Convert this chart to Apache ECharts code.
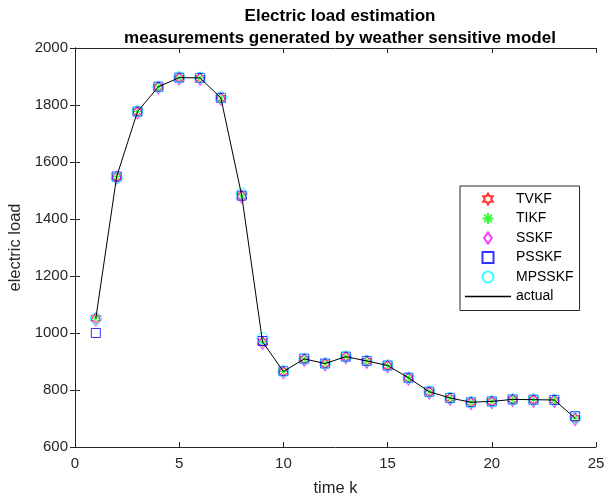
<!DOCTYPE html>
<html>
<head>
<meta charset="utf-8">
<script src="https://cdn.jsdelivr.net/npm/echarts@6/dist/echarts.min.js"></script>
<style>
  html, body { margin: 0; padding: 0; background: #fff; }
  #chart { width: 606px; height: 499px; }
</style>
</head>
<body>
<div id="chart"></div>
<script>
  // 时间步 k
  const steps = [1, 2, 3, 4, 5, 6, 7, 8, 9, 10, 11, 12, 13, 14, 15, 16, 17, 18, 19, 20, 21, 22, 23, 24];
  // 实际负荷
  const actual = [1052, 1549, 1777, 1864, 1896, 1895, 1825, 1482, 969, 865, 909, 893, 917, 902, 886, 843, 794, 772, 757, 760, 767, 766, 765, 701];
  // 各估计器
  const tvkf = [1052, 1549, 1777, 1864, 1896, 1895, 1825, 1482, 969, 865, 909, 893, 917, 902, 886, 843, 794, 772, 757, 760, 767, 766, 765, 701];
  const tikf = [1052, 1549, 1777, 1864, 1896, 1895, 1825, 1482, 969, 865, 909, 893, 917, 902, 886, 843, 794, 772, 757, 760, 767, 766, 765, 701];
  const sskf = [1048, 1546, 1774, 1861, 1893, 1892, 1822, 1478, 965, 862, 906, 890, 914, 899, 883, 840, 791, 769, 754, 757, 764, 763, 762, 698];
  const psskf = [1000, 1549, 1777, 1864, 1896, 1895, 1825, 1482, 972, 866, 910, 893, 917, 902, 886, 843, 794, 772, 757, 760, 767, 766, 765, 708];
  const mpsskf = [1050, 1545, 1778, 1864, 1897, 1896, 1826, 1489, 982, 866, 909, 893, 917, 902, 886, 843, 794, 772, 757, 760, 767, 766, 765, 703];

  const xTicks = [0, 25, 5];
  const yTicks = [600, 2000, 200];

  const hexagram = "path://M0,-1L0.289,-0.5L0.866,-0.5L0.577,0L0.866,0.5L0.289,0.5L0,1L-0.289,0.5L-0.866,0.5L-0.577,0L-0.866,-0.5L-0.289,-0.5Z";
  const asterisk = "path://M0,-1L0,1M-1,0L1,0M-0.7,-0.7L0.7,0.7M-0.7,0.7L0.7,-0.7";
  const diamond = "path://M0,-1L0.7,0L0,1L-0.7,0Z";
  const square = "path://M-1,-1L1,-1L1,1L-1,1Z";
  const lineIcon = "path://M0,0L46,0L46,1.3L0,1.3Z";

  function pairs(vals) {
    return steps.map(function (k, i) { return [k, vals[i]]; });
  }

  function markerSeries(name, vals, symbol, size, color) {
    return {
      name: name,
      type: "scatter",
      data: pairs(vals),
      symbol: symbol,
      symbolSize: size,
      itemStyle: { color: "rgba(0,0,0,0)", borderColor: color, borderWidth: 1 },
      emphasis: { disabled: true }
    };
  }

  const axisColor = "#262626";
  const font = "Liberation Sans, Arial, sans-serif";

  let chart = echarts.init(document.getElementById("chart"));
  let option = {
    animation: false,
    backgroundColor: "#fff",
    title: {
      text: "Electric load estimation\nmeasurements generated by weather sensitive model",
      left: 335,
      textAlign: "center",
      top: 0,
      textStyle: { fontFamily: font, fontSize: 17, fontWeight: "bold", color: "#000", lineHeight: 22 }
    },
    grid: { left: 75, right: 10, top: 48, bottom: 52, outerBoundsMode: "none", containLabel: false },
    legend: {
      orient: "vertical",
      left: 460,
      top: 186,
      padding: [6, 6, 7, 5],
      itemWidth: 46,
      itemHeight: 11,
      itemGap: 5.5,
      borderColor: axisColor,
      borderWidth: 1,
      borderRadius: 0,
      backgroundColor: "#fff",
      textStyle: { fontFamily: font, fontSize: 14, color: "#000" },
      data: ["TVKF", "TIKF", "SSKF", "PSSKF", "MPSSKF",
        { name: "actual", icon: lineIcon, itemStyle: { color: "#000", borderWidth: 0 } }]
    },
    xAxis: [{
      type: "value",
      min: xTicks[0], max: xTicks[1], interval: xTicks[2],
      name: "time k",
      nameLocation: "middle",
      nameGap: 33,
      nameTextStyle: { fontFamily: font, fontSize: 16.5, color: axisColor },
      axisLine: { lineStyle: { color: axisColor } },
      axisTick: { inside: true, length: 5, lineStyle: { color: axisColor } },
      axisLabel: { fontFamily: font, fontSize: 15, color: axisColor, margin: 9 },
      splitLine: { show: false }
    }, {
      type: "value",
      position: "top",
      min: xTicks[0], max: xTicks[1], interval: xTicks[2],
      axisLine: { lineStyle: { color: axisColor } },
      axisTick: { inside: true, length: 5, lineStyle: { color: axisColor } },
      axisLabel: { show: false },
      splitLine: { show: false }
    }],
    yAxis: [{
      type: "value",
      min: yTicks[0], max: yTicks[1], interval: yTicks[2],
      name: "electric load",
      nameLocation: "middle",
      nameGap: 44,
      nameTextStyle: { fontFamily: font, fontSize: 16.5, color: axisColor },
      axisLine: { show: true, lineStyle: { color: axisColor } },
      axisTick: { show: true, inside: true, length: 5, lineStyle: { color: axisColor } },
      axisLabel: { fontFamily: font, fontSize: 15, color: axisColor, margin: 7, formatter: function (v) { return String(v); } },
      splitLine: { show: false }
    }, {
      type: "value",
      position: "right",
      min: yTicks[0], max: yTicks[1], interval: yTicks[2],
      axisLine: { show: true, lineStyle: { color: axisColor } },
      axisTick: { show: true, inside: true, length: 5, lineStyle: { color: axisColor } },
      axisLabel: { show: false },
      splitLine: { show: false }
    }],
    series: [
      markerSeries("TVKF", tvkf, hexagram, 10, "#ff0000"),
      markerSeries("TIKF", tikf, asterisk, 9, "#00ff00"),
      markerSeries("SSKF", sskf, diamond, [9, 13], "#ff00ff"),
      markerSeries("PSSKF", psskf, square, 9, "#0000ff"),
      markerSeries("MPSSKF", mpsskf, "circle", 11, "#00ffff"),
      {
        name: "actual",
        type: "line",
        data: pairs(actual),
        symbol: "none",
        lineStyle: { color: "#000", width: 1 },
        itemStyle: { color: "#000" },
        emphasis: { disabled: true }
      }
    ]
  };
  chart.setOption(option);
</script>
</body>
</html>
